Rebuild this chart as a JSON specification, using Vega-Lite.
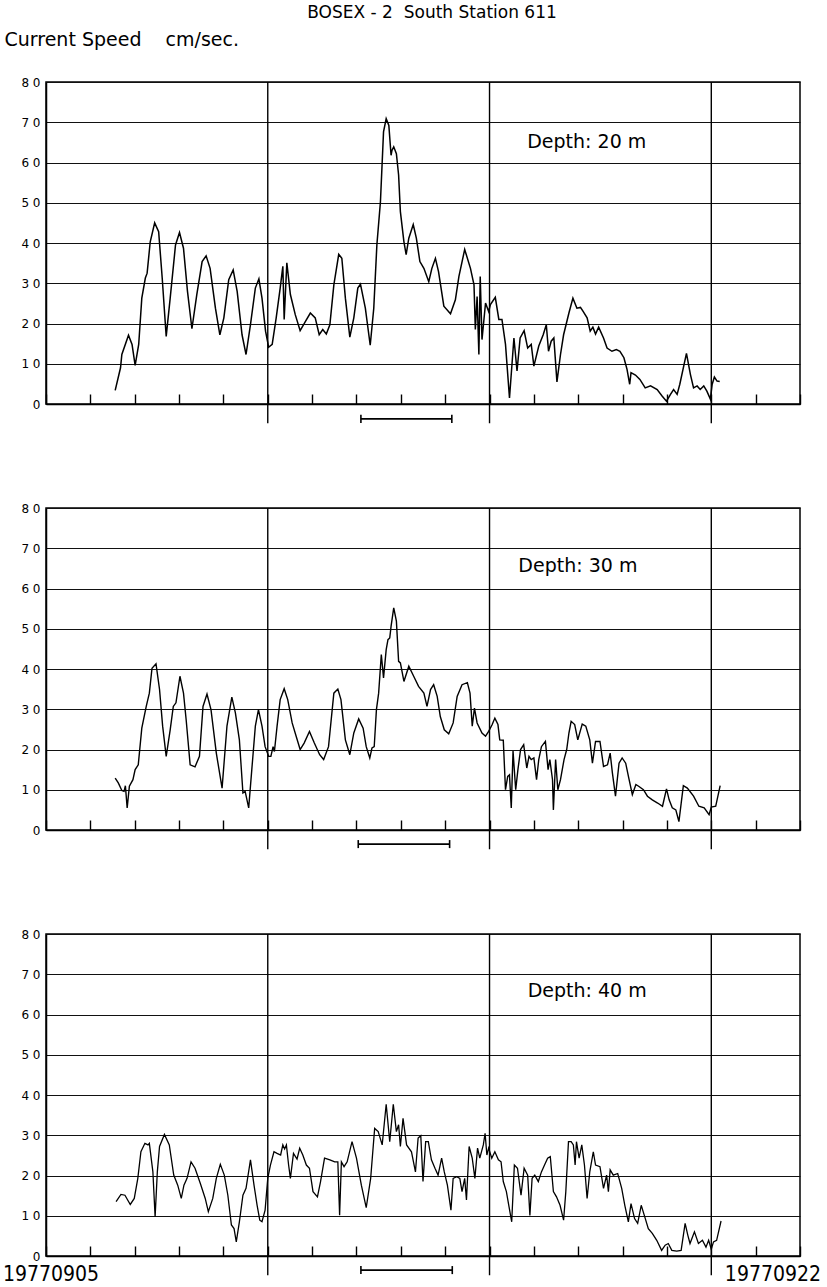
{
"$schema":"https://vega.github.io/schema/vega-lite/v6.json",
"background":"white",
"padding":{"left":2,"right":4,"top":4,"bottom":2},
"title":{"text":"BOSEX - 2\u00a0 South Station 611","anchor":"middle","fontSize":17,"font":"DejaVu Sans","fontWeight":"normal","color":"black","dx":20,"offset":7},
"config":{"font":"DejaVu Sans","view":{"stroke":"black","strokeWidth":1.5},
"axisY":{"values":[0,10,20,30,40,50,60,70,80],"labelExpr":"datum.value == 0 ? '0' : (datum.value/10) + ' 0'","labelFontSize":12,"labelColor":"black","labelPadding":6,"tickSize":0,"domainColor":"black","domainWidth":1.5,"grid":true,"gridColor":"#111","gridWidth":1.1,"title":null},
"axisX":{"values":[1,2,3,4,6,7,8,9,11,12,13,14,16],"labels":false,"tickSize":-10,"tickColor":"black","tickWidth":1.4,"domainColor":"black","domainWidth":1.5,"grid":false,"title":null}},
"datasets":{
"s20":[{"day":1.56,"speed":3.4},{"day":1.68,"speed":9.0},{"day":1.71,"speed":12.3},{"day":1.86,"speed":17.1},{"day":1.94,"speed":14.8},{"day":2.01,"speed":9.6},{"day":2.09,"speed":14.8},{"day":2.16,"speed":26.3},{"day":2.24,"speed":31.3},{"day":2.28,"speed":32.5},{"day":2.35,"speed":40.3},{"day":2.45,"speed":45.0},{"day":2.54,"speed":42.8},{"day":2.62,"speed":31.3},{"day":2.71,"speed":16.8},{"day":2.80,"speed":26.3},{"day":2.92,"speed":39.5},{"day":3.01,"speed":42.6},{"day":3.10,"speed":38.7},{"day":3.19,"speed":28.0},{"day":3.29,"speed":18.7},{"day":3.40,"speed":27.2},{"day":3.52,"speed":35.4},{"day":3.61,"speed":36.8},{"day":3.70,"speed":33.7},{"day":3.82,"speed":23.8},{"day":3.92,"speed":17.2},{"day":4.01,"speed":21.4},{"day":4.12,"speed":30.9},{"day":4.22,"speed":33.3},{"day":4.31,"speed":28.0},{"day":4.42,"speed":17.2},{"day":4.51,"speed":12.3},{"day":4.61,"speed":19.7},{"day":4.72,"speed":28.8},{"day":4.80,"speed":31.1},{"day":4.87,"speed":26.3},{"day":4.95,"speed":18.1},{"day":5.02,"speed":14.1},{"day":5.10,"speed":14.8},{"day":5.19,"speed":21.4},{"day":5.28,"speed":28.8},{"day":5.34,"speed":34.2},{"day":5.37,"speed":21.0},{"day":5.43,"speed":35.1},{"day":5.51,"speed":27.2},{"day":5.62,"speed":22.2},{"day":5.73,"speed":18.2},{"day":5.85,"speed":20.5},{"day":5.96,"speed":22.6},{"day":6.07,"speed":21.4},{"day":6.16,"speed":17.2},{"day":6.24,"speed":18.5},{"day":6.32,"speed":17.4},{"day":6.40,"speed":19.7},{"day":6.49,"speed":29.6},{"day":6.60,"speed":37.2},{"day":6.67,"speed":36.2},{"day":6.75,"speed":26.3},{"day":6.85,"speed":16.6},{"day":6.94,"speed":21.4},{"day":7.03,"speed":28.8},{"day":7.09,"speed":29.8},{"day":7.20,"speed":23.8},{"day":7.31,"speed":14.6},{"day":7.39,"speed":23.8},{"day":7.46,"speed":39.5},{"day":7.54,"speed":50.2},{"day":7.61,"speed":67.6},{"day":7.67,"speed":70.9},{"day":7.73,"speed":69.2},{"day":7.78,"speed":61.8},{"day":7.80,"speed":63.0},{"day":7.84,"speed":63.9},{"day":7.90,"speed":62.2},{"day":7.95,"speed":56.9},{"day":7.99,"speed":47.8},{"day":8.07,"speed":40.3},{"day":8.12,"speed":37.1},{"day":8.18,"speed":41.2},{"day":8.28,"speed":44.6},{"day":8.35,"speed":41.2},{"day":8.43,"speed":35.4},{"day":8.52,"speed":33.7},{"day":8.63,"speed":30.4},{"day":8.70,"speed":33.7},{"day":8.78,"speed":36.2},{"day":8.85,"speed":32.9},{"day":8.97,"speed":24.3},{"day":9.12,"speed":22.4},{"day":9.23,"speed":25.9},{"day":9.31,"speed":31.7},{"day":9.44,"speed":38.4},{"day":9.57,"speed":33.7},{"day":9.65,"speed":29.6},{"day":9.68,"speed":18.5},{"day":9.72,"speed":26.7},{"day":9.76,"speed":12.3},{"day":9.79,"speed":31.7},{"day":9.83,"speed":16.0},{"day":9.91,"speed":25.1},{"day":9.98,"speed":23.0},{"day":10.02,"speed":24.7},{"day":10.13,"speed":26.5},{"day":10.21,"speed":21.0},{"day":10.28,"speed":21.0},{"day":10.36,"speed":14.8},{"day":10.45,"speed":1.5},{"day":10.55,"speed":16.4},{"day":10.62,"speed":8.2},{"day":10.69,"speed":16.4},{"day":10.78,"speed":18.2},{"day":10.86,"speed":13.9},{"day":10.94,"speed":14.8},{"day":11.00,"speed":9.4},{"day":11.11,"speed":14.4},{"day":11.21,"speed":17.2},{"day":11.28,"speed":19.7},{"day":11.33,"speed":13.1},{"day":11.39,"speed":15.6},{"day":11.45,"speed":16.4},{"day":11.52,"speed":5.5},{"day":11.60,"speed":12.3},{"day":11.67,"speed":17.2},{"day":11.79,"speed":22.6},{"day":11.88,"speed":26.3},{"day":11.97,"speed":23.8},{"day":12.05,"speed":24.0},{"day":12.11,"speed":23.0},{"day":12.20,"speed":21.4},{"day":12.27,"speed":18.1},{"day":12.33,"speed":19.1},{"day":12.39,"speed":17.4},{"day":12.46,"speed":19.1},{"day":12.57,"speed":16.4},{"day":12.65,"speed":13.9},{"day":12.76,"speed":13.1},{"day":12.86,"speed":13.5},{"day":12.94,"speed":13.1},{"day":13.03,"speed":11.5},{"day":13.10,"speed":8.6},{"day":13.16,"speed":4.9},{"day":13.19,"speed":7.8},{"day":13.29,"speed":7.2},{"day":13.39,"speed":6.1},{"day":13.51,"speed":4.0},{"day":13.63,"speed":4.5},{"day":13.78,"speed":3.6},{"day":13.89,"speed":2.0},{"day":13.99,"speed":0.7},{"day":14.08,"speed":2.4},{"day":14.15,"speed":3.6},{"day":14.23,"speed":2.4},{"day":14.29,"speed":4.9},{"day":14.44,"speed":12.6},{"day":14.53,"speed":7.3},{"day":14.60,"speed":4.0},{"day":14.68,"speed":4.5},{"day":14.75,"speed":3.6},{"day":14.83,"speed":4.5},{"day":14.90,"speed":3.2},{"day":14.98,"speed":1.2},{"day":15.02,"speed":4.9},{"day":15.07,"speed":6.7},{"day":15.13,"speed":5.7},{"day":15.19,"speed":5.6}],
"s30":[{"day":1.56,"speed":12.9},{"day":1.63,"speed":11.7},{"day":1.71,"speed":9.8},{"day":1.76,"speed":9.6},{"day":1.79,"speed":11.0},{"day":1.83,"speed":5.5},{"day":1.88,"speed":10.9},{"day":1.96,"speed":12.5},{"day":2.01,"speed":15.0},{"day":2.08,"speed":16.2},{"day":2.16,"speed":25.3},{"day":2.26,"speed":30.7},{"day":2.33,"speed":34.0},{"day":2.39,"speed":40.2},{"day":2.48,"speed":41.3},{"day":2.56,"speed":34.9},{"day":2.63,"speed":25.8},{"day":2.71,"speed":18.3},{"day":2.80,"speed":24.9},{"day":2.87,"speed":30.7},{"day":2.93,"speed":31.6},{"day":3.02,"speed":38.2},{"day":3.10,"speed":34.0},{"day":3.16,"speed":27.4},{"day":3.25,"speed":16.2},{"day":3.36,"speed":15.7},{"day":3.46,"speed":18.3},{"day":3.54,"speed":30.7},{"day":3.63,"speed":33.8},{"day":3.72,"speed":29.9},{"day":3.84,"speed":19.1},{"day":3.97,"speed":10.4},{"day":4.08,"speed":25.8},{"day":4.19,"speed":33.0},{"day":4.27,"speed":29.1},{"day":4.36,"speed":22.4},{"day":4.44,"speed":9.2},{"day":4.49,"speed":9.6},{"day":4.57,"speed":5.5},{"day":4.64,"speed":15.0},{"day":4.72,"speed":25.8},{"day":4.79,"speed":29.9},{"day":4.87,"speed":25.8},{"day":4.94,"speed":20.7},{"day":5.02,"speed":18.3},{"day":5.07,"speed":18.3},{"day":5.12,"speed":20.7},{"day":5.15,"speed":19.5},{"day":5.21,"speed":25.8},{"day":5.28,"speed":32.4},{"day":5.37,"speed":35.1},{"day":5.45,"speed":32.4},{"day":5.55,"speed":26.6},{"day":5.64,"speed":23.3},{"day":5.73,"speed":20.0},{"day":5.82,"speed":21.6},{"day":5.94,"speed":24.5},{"day":6.05,"speed":21.6},{"day":6.17,"speed":18.7},{"day":6.26,"speed":17.5},{"day":6.37,"speed":20.7},{"day":6.49,"speed":34.0},{"day":6.58,"speed":35.0},{"day":6.65,"speed":32.4},{"day":6.75,"speed":22.4},{"day":6.85,"speed":18.7},{"day":6.94,"speed":24.1},{"day":7.05,"speed":27.6},{"day":7.15,"speed":25.3},{"day":7.22,"speed":20.7},{"day":7.30,"speed":17.9},{"day":7.35,"speed":20.4},{"day":7.40,"speed":20.7},{"day":7.45,"speed":29.9},{"day":7.50,"speed":34.0},{"day":7.56,"speed":43.6},{"day":7.61,"speed":37.8},{"day":7.67,"speed":44.8},{"day":7.71,"speed":47.3},{"day":7.75,"speed":47.7},{"day":7.78,"speed":50.6},{"day":7.84,"speed":55.2},{"day":7.90,"speed":51.9},{"day":7.95,"speed":41.9},{"day":7.99,"speed":41.5},{"day":8.07,"speed":36.9},{"day":8.18,"speed":40.7},{"day":8.29,"speed":38.2},{"day":8.40,"speed":35.7},{"day":8.52,"speed":34.0},{"day":8.59,"speed":30.7},{"day":8.67,"speed":34.9},{"day":8.74,"speed":36.1},{"day":8.82,"speed":33.2},{"day":8.89,"speed":28.2},{"day":8.98,"speed":24.9},{"day":9.08,"speed":23.9},{"day":9.18,"speed":26.6},{"day":9.27,"speed":33.2},{"day":9.38,"speed":36.1},{"day":9.50,"speed":36.6},{"day":9.56,"speed":34.0},{"day":9.61,"speed":25.8},{"day":9.66,"speed":30.3},{"day":9.72,"speed":26.6},{"day":9.83,"speed":24.1},{"day":9.91,"speed":23.3},{"day":9.98,"speed":24.5},{"day":10.06,"speed":26.2},{"day":10.12,"speed":27.8},{"day":10.19,"speed":26.2},{"day":10.23,"speed":22.4},{"day":10.31,"speed":22.3},{"day":10.36,"speed":10.0},{"day":10.41,"speed":13.3},{"day":10.45,"speed":13.7},{"day":10.49,"speed":5.5},{"day":10.53,"speed":19.6},{"day":10.59,"speed":10.0},{"day":10.64,"speed":15.0},{"day":10.70,"speed":20.0},{"day":10.77,"speed":21.2},{"day":10.84,"speed":15.4},{"day":10.89,"speed":18.3},{"day":10.94,"speed":17.5},{"day":11.00,"speed":17.9},{"day":11.06,"speed":12.5},{"day":11.11,"speed":17.5},{"day":11.17,"speed":20.7},{"day":11.26,"speed":22.0},{"day":11.32,"speed":15.0},{"day":11.36,"speed":17.5},{"day":11.42,"speed":12.5},{"day":11.44,"speed":5.0},{"day":11.49,"speed":17.5},{"day":11.54,"speed":10.0},{"day":11.60,"speed":12.5},{"day":11.68,"speed":17.5},{"day":11.74,"speed":20.0},{"day":11.79,"speed":24.1},{"day":11.84,"speed":27.0},{"day":11.92,"speed":26.2},{"day":11.99,"speed":22.4},{"day":12.09,"speed":26.3},{"day":12.17,"speed":25.8},{"day":12.26,"speed":22.4},{"day":12.32,"speed":16.6},{"day":12.39,"speed":22.0},{"day":12.49,"speed":22.0},{"day":12.57,"speed":15.8},{"day":12.66,"speed":16.2},{"day":12.72,"speed":19.1},{"day":12.77,"speed":14.2},{"day":12.84,"speed":8.4},{"day":12.92,"speed":16.6},{"day":12.99,"speed":17.9},{"day":13.07,"speed":16.6},{"day":13.14,"speed":12.9},{"day":13.22,"speed":8.8},{"day":13.30,"speed":11.3},{"day":13.37,"speed":10.8},{"day":13.47,"speed":10.0},{"day":13.56,"speed":8.4},{"day":13.67,"speed":7.5},{"day":13.79,"speed":6.7},{"day":13.90,"speed":5.9},{"day":13.99,"speed":10.2},{"day":14.05,"speed":7.5},{"day":14.12,"speed":5.5},{"day":14.20,"speed":5.0},{"day":14.27,"speed":2.1},{"day":14.37,"speed":11.0},{"day":14.46,"speed":10.4},{"day":14.60,"speed":8.4},{"day":14.72,"speed":5.9},{"day":14.84,"speed":5.5},{"day":14.95,"speed":3.8},{"day":15.00,"speed":5.7},{"day":15.10,"speed":5.9},{"day":15.20,"speed":11.0}],
"s40":[{"day":1.58,"speed":13.5},{"day":1.69,"speed":15.3},{"day":1.78,"speed":15.1},{"day":1.90,"speed":12.8},{"day":1.99,"speed":14.3},{"day":2.07,"speed":19.3},{"day":2.14,"speed":25.9},{"day":2.23,"speed":28.0},{"day":2.30,"speed":27.6},{"day":2.33,"speed":28.0},{"day":2.41,"speed":20.9},{"day":2.46,"speed":9.7},{"day":2.51,"speed":20.9},{"day":2.56,"speed":27.2},{"day":2.67,"speed":30.2},{"day":2.78,"speed":27.6},{"day":2.88,"speed":20.1},{"day":2.97,"speed":17.6},{"day":3.05,"speed":14.3},{"day":3.11,"speed":17.6},{"day":3.18,"speed":19.3},{"day":3.27,"speed":23.4},{"day":3.36,"speed":21.8},{"day":3.48,"speed":18.0},{"day":3.59,"speed":14.3},{"day":3.66,"speed":11.0},{"day":3.76,"speed":14.3},{"day":3.84,"speed":19.3},{"day":3.93,"speed":22.8},{"day":4.02,"speed":20.1},{"day":4.10,"speed":15.1},{"day":4.18,"speed":7.7},{"day":4.24,"speed":6.8},{"day":4.29,"speed":3.5},{"day":4.36,"speed":8.5},{"day":4.44,"speed":15.1},{"day":4.51,"speed":16.8},{"day":4.61,"speed":23.9},{"day":4.69,"speed":17.6},{"day":4.76,"speed":12.6},{"day":4.82,"speed":8.9},{"day":4.87,"speed":8.5},{"day":4.94,"speed":11.4},{"day":5.00,"speed":19.3},{"day":5.06,"speed":22.6},{"day":5.14,"speed":25.9},{"day":5.21,"speed":25.5},{"day":5.29,"speed":25.1},{"day":5.34,"speed":27.6},{"day":5.38,"speed":26.6},{"day":5.42,"speed":27.6},{"day":5.47,"speed":22.6},{"day":5.51,"speed":19.3},{"day":5.58,"speed":25.5},{"day":5.66,"speed":24.1},{"day":5.72,"speed":26.8},{"day":5.79,"speed":25.1},{"day":5.87,"speed":22.6},{"day":5.94,"speed":21.8},{"day":6.02,"speed":16.0},{"day":6.12,"speed":14.7},{"day":6.19,"speed":18.5},{"day":6.28,"speed":24.3},{"day":6.40,"speed":23.9},{"day":6.51,"speed":23.4},{"day":6.58,"speed":23.4},{"day":6.62,"speed":10.1},{"day":6.66,"speed":23.4},{"day":6.72,"speed":22.2},{"day":6.79,"speed":23.4},{"day":6.90,"speed":28.4},{"day":7.00,"speed":24.3},{"day":7.11,"speed":17.6},{"day":7.22,"speed":12.0},{"day":7.32,"speed":19.3},{"day":7.41,"speed":31.7},{"day":7.49,"speed":30.9},{"day":7.58,"speed":27.6},{"day":7.67,"speed":37.7},{"day":7.75,"speed":28.4},{"day":7.83,"speed":37.7},{"day":7.90,"speed":30.9},{"day":7.95,"speed":32.6},{"day":7.99,"speed":27.2},{"day":8.05,"speed":34.2},{"day":8.13,"speed":27.6},{"day":8.24,"speed":25.9},{"day":8.33,"speed":20.9},{"day":8.39,"speed":29.3},{"day":8.45,"speed":29.9},{"day":8.50,"speed":18.5},{"day":8.56,"speed":28.4},{"day":8.62,"speed":28.4},{"day":8.69,"speed":23.9},{"day":8.77,"speed":21.8},{"day":8.84,"speed":20.1},{"day":8.92,"speed":24.3},{"day":8.98,"speed":20.9},{"day":9.05,"speed":17.6},{"day":9.13,"speed":11.4},{"day":9.18,"speed":19.3},{"day":9.26,"speed":19.7},{"day":9.33,"speed":19.3},{"day":9.38,"speed":16.0},{"day":9.44,"speed":19.3},{"day":9.48,"speed":13.9},{"day":9.54,"speed":27.2},{"day":9.61,"speed":24.3},{"day":9.67,"speed":19.3},{"day":9.73,"speed":26.8},{"day":9.78,"speed":24.3},{"day":9.86,"speed":27.6},{"day":9.90,"speed":30.5},{"day":9.94,"speed":25.1},{"day":9.98,"speed":26.8},{"day":10.05,"speed":24.3},{"day":10.12,"speed":25.9},{"day":10.20,"speed":23.9},{"day":10.26,"speed":23.4},{"day":10.31,"speed":18.5},{"day":10.38,"speed":16.0},{"day":10.44,"speed":12.2},{"day":10.50,"speed":8.5},{"day":10.56,"speed":22.6},{"day":10.63,"speed":21.8},{"day":10.71,"speed":15.1},{"day":10.78,"speed":21.8},{"day":10.86,"speed":20.1},{"day":10.91,"speed":10.1},{"day":10.96,"speed":19.3},{"day":11.02,"speed":20.1},{"day":11.10,"speed":18.5},{"day":11.17,"speed":20.9},{"day":11.24,"speed":22.6},{"day":11.31,"speed":24.3},{"day":11.37,"speed":24.7},{"day":11.44,"speed":16.0},{"day":11.51,"speed":14.7},{"day":11.59,"speed":12.6},{"day":11.67,"speed":8.9},{"day":11.72,"speed":16.0},{"day":11.78,"speed":28.4},{"day":11.84,"speed":28.4},{"day":11.89,"speed":27.6},{"day":11.93,"speed":22.6},{"day":11.96,"speed":28.4},{"day":12.02,"speed":24.3},{"day":12.08,"speed":27.6},{"day":12.14,"speed":22.6},{"day":12.20,"speed":14.3},{"day":12.26,"speed":20.9},{"day":12.34,"speed":25.9},{"day":12.39,"speed":22.6},{"day":12.49,"speed":22.2},{"day":12.57,"speed":16.8},{"day":12.64,"speed":20.1},{"day":12.68,"speed":16.0},{"day":12.72,"speed":21.4},{"day":12.79,"speed":20.1},{"day":12.89,"speed":20.5},{"day":12.98,"speed":16.8},{"day":13.05,"speed":12.6},{"day":13.13,"speed":8.5},{"day":13.19,"speed":13.0},{"day":13.27,"speed":9.3},{"day":13.34,"speed":8.1},{"day":13.42,"speed":12.6},{"day":13.49,"speed":10.1},{"day":13.58,"speed":6.8},{"day":13.67,"speed":5.6},{"day":13.77,"speed":3.9},{"day":13.88,"speed":1.4},{"day":13.96,"speed":2.7},{"day":14.03,"speed":3.1},{"day":14.11,"speed":1.4},{"day":14.22,"speed":1.2},{"day":14.32,"speed":1.4},{"day":14.41,"speed":8.1},{"day":14.47,"speed":5.2},{"day":14.52,"speed":3.1},{"day":14.62,"speed":6.0},{"day":14.71,"speed":3.1},{"day":14.80,"speed":3.9},{"day":14.88,"speed":2.2},{"day":14.94,"speed":3.9},{"day":15.00,"speed":1.7},{"day":15.05,"speed":3.5},{"day":15.12,"speed":3.9},{"day":15.22,"speed":8.7}],
"daylines":[{"day":5},{"day":10},{"day":15}]
},
"spacing":104,
"bounds":"flush",
"vconcat":[
{"width":754,"height":322,
"layer":[
{"data":{"name":"daylines"},"mark":{"type":"rule","color":"black","strokeWidth":1.4},"encoding":{"x":{"field":"day","type":"quantitative","scale":{"domain":[0,17],"nice":false,"zero":false}},"y":{"datum":-4.8,"type":"quantitative","scale":{"domain":[0,80],"nice":false}},"y2":{"datum":80}}},
{"data":{"name":"s20"},"mark":{"type":"line","color":"black","strokeWidth":1.5},"encoding":{"x":{"field":"day","type":"quantitative"},"y":{"field":"speed","type":"quantitative","axis":{"title":"Current Speed\u00a0\u00a0\u00a0 cm/sec.","titleAngle":0,"titleAlign":"left","titleBaseline":"middle","titleX":-42,"titleY":-43,"titleFontSize":19,"titleFontWeight":"normal","titleColor":"black","titleFont":"DejaVu Sans"}}}},
{"data":{"values":[{}]},"mark":{"type":"text","align":"left","baseline":"middle","fontSize":19,"color":"black"},"encoding":{"x":{"datum":10.85},"y":{"datum":65},"text":{"value":"Depth: 20 m"}}},
{"data":{"values":[{}]},"mark":{"type":"rule","color":"black","strokeWidth":1.6},"encoding":{"x":{"datum":7.1},"x2":{"datum":9.15},"y":{"datum":-3.7}}},
{"data":{"values":[{}]},"mark":{"type":"rule","color":"black","strokeWidth":1.6},"encoding":{"x":{"datum":7.1},"y":{"datum":-4.7},"y2":{"datum":-2.7}}},
{"data":{"values":[{}]},"mark":{"type":"rule","color":"black","strokeWidth":1.6},"encoding":{"x":{"datum":9.15},"y":{"datum":-4.7},"y2":{"datum":-2.7}}}
]},
{"width":754,"height":322,
"layer":[
{"data":{"name":"daylines"},"mark":{"type":"rule","color":"black","strokeWidth":1.4},"encoding":{"x":{"field":"day","type":"quantitative","scale":{"domain":[0,17],"nice":false,"zero":false}},"y":{"datum":-4.8,"type":"quantitative","scale":{"domain":[0,80],"nice":false}},"y2":{"datum":80}}},
{"data":{"name":"s30"},"mark":{"type":"line","color":"black","strokeWidth":1.4},"encoding":{"x":{"field":"day","type":"quantitative"},"y":{"field":"speed","type":"quantitative"}}},
{"data":{"values":[{}]},"mark":{"type":"text","align":"left","baseline":"middle","fontSize":19,"color":"black"},"encoding":{"x":{"datum":10.65},"y":{"datum":65.5},"text":{"value":"Depth: 30 m"}}},
{"data":{"values":[{}]},"mark":{"type":"rule","color":"black","strokeWidth":1.6},"encoding":{"x":{"datum":7.04},"x2":{"datum":9.1},"y":{"datum":-3.5}}},
{"data":{"values":[{}]},"mark":{"type":"rule","color":"black","strokeWidth":1.6},"encoding":{"x":{"datum":7.04},"y":{"datum":-4.5},"y2":{"datum":-2.5}}},
{"data":{"values":[{}]},"mark":{"type":"rule","color":"black","strokeWidth":1.6},"encoding":{"x":{"datum":9.1},"y":{"datum":-4.5},"y2":{"datum":-2.5}}}
]},
{"width":754,"height":322,
"layer":[
{"data":{"name":"daylines"},"mark":{"type":"rule","color":"black","strokeWidth":1.4},"encoding":{"x":{"field":"day","type":"quantitative","scale":{"domain":[0,17],"nice":false,"zero":false}},"y":{"datum":-4.8,"type":"quantitative","scale":{"domain":[0,80],"nice":false}},"y2":{"datum":80}}},
{"data":{"name":"s40"},"mark":{"type":"line","color":"black","strokeWidth":1.3},"encoding":{"x":{"field":"day","type":"quantitative"},"y":{"field":"speed","type":"quantitative"}}},
{"data":{"values":[{}]},"mark":{"type":"text","align":"left","baseline":"middle","fontSize":19,"color":"black"},"encoding":{"x":{"datum":10.86},"y":{"datum":65.8},"text":{"value":"Depth: 40 m"}}},
{"data":{"values":[{}]},"mark":{"type":"rule","color":"black","strokeWidth":1.6},"encoding":{"x":{"datum":7.1},"x2":{"datum":9.16},"y":{"datum":-3.5}}},
{"data":{"values":[{}]},"mark":{"type":"rule","color":"black","strokeWidth":1.6},"encoding":{"x":{"datum":7.1},"y":{"datum":-4.5},"y2":{"datum":-2.5}}},
{"data":{"values":[{}]},"mark":{"type":"rule","color":"black","strokeWidth":1.6},"encoding":{"x":{"datum":9.16},"y":{"datum":-4.5},"y2":{"datum":-2.5}}},
{"data":{"values":[{}]},"mark":{"type":"text","align":"left","baseline":"middle","fontSize":21,"dx":-43,"color":"black","font":"DejaVu Sans Condensed, DejaVu Sans"},"encoding":{"x":{"datum":0},"y":{"datum":-4.6},"text":{"value":"19770905"}}},
{"data":{"values":[{}]},"mark":{"type":"text","align":"right","baseline":"middle","fontSize":21,"dx":21,"color":"black","font":"DejaVu Sans Condensed, DejaVu Sans"},"encoding":{"x":{"datum":17},"y":{"datum":-4.6},"text":{"value":"19770922"}}}
]}
]
}
